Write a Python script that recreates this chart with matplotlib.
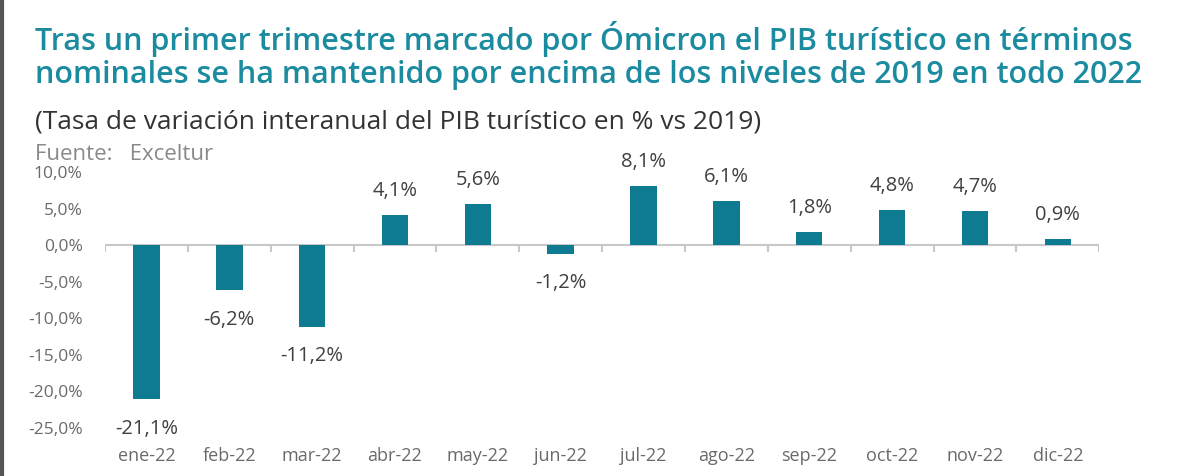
import matplotlib
matplotlib.use('Agg')
from matplotlib import pyplot as plt
from matplotlib.lines import Line2D
import numpy as np

# datos
meses = ['ene-22', 'feb-22', 'mar-22', 'abr-22', 'may-22', 'jun-22',
         'jul-22', 'ago-22', 'sep-22', 'oct-22', 'nov-22', 'dic-22']
variacion = [-21.1, -6.2, -11.2, 4.1, 5.6, -1.2, 8.1, 6.1, 1.8, 4.8, 4.7, 0.9]
yticks = [10, 5, 0, -5, -10, -15, -20, -25]

teal = '#0f7b93'
title_color = '#1b8ba0'
plt.rcParams['font.family'] = ['Open Sans', 'DejaVu Sans']

fig = plt.figure(figsize=(12, 4.76), dpi=100)
ax = fig.add_axes([0.0875, 0.1008, 0.8285, 0.5379])

x = np.arange(len(meses))
ax.bar(x, variacion, width=0.32, color=teal, zorder=3)

# eje en cero con marcas entre categorias
ax.axhline(0, color='#c8c8c8', lw=1.5, zorder=2)
ax.vlines(np.arange(len(meses) + 1) - 0.5, -0.9, 0, color='#c8c8c8', lw=1.5, zorder=2)

for xi, v in zip(x, variacion):
    txt = '{:.1f}%'.format(v).replace('.', ',')
    if v >= 0:
        ax.text(xi, v + 1.9, txt, ha='center', va='bottom', fontsize=14.5, color='#404040')
    else:
        ax.text(xi, v - 2.6, txt, ha='center', va='top', fontsize=14.5, color='#404040')

ax.set_xlim(-0.5, len(meses) - 0.5)
ax.set_ylim(-25, 10)
ax.set_yticks(yticks)
ax.set_yticklabels(['{:.1f}%'.format(t).replace('.', ',') for t in yticks])
ax.set_xticks(x)
ax.set_xticklabels(meses)
ax.tick_params(axis='both', length=0, colors='#6a6a6a')
ax.tick_params(axis='x', pad=14, labelsize=13)
ax.tick_params(axis='y', pad=16, labelsize=12.5)
for s in ax.spines.values():
    s.set_visible(False)

# textos
fig.text(0.029, 0.895, 'Tras un primer trimestre marcado por Ómicron el PIB turístico en términos',
         fontsize=22, fontweight='semibold', color=title_color, va='baseline')
fig.text(0.029, 0.826, 'nominales se ha mantenido por encima de los niveles de 2019 en todo 2022',
         fontsize=22, fontweight='semibold', color=title_color, va='baseline')
fig.text(0.029, 0.731, '(Tasa de variación interanual del PIB turístico en % vs 2019)',
         fontsize=19, color='#333333', va='baseline')
fig.text(0.029, 0.664, 'Fuente:   Exceltur', fontsize=16, color='#8a8a8a', va='baseline')

# borde izquierdo
fig.add_artist(Line2D([0.0015, 0.0015], [0, 1], transform=fig.transFigure, color='#555555', lw=3))

fig.savefig('out.png', dpi=100)
